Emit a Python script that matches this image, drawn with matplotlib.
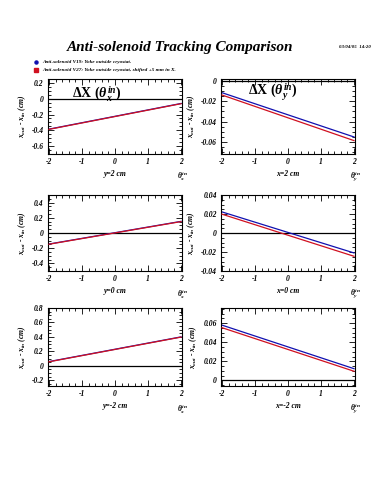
import matplotlib
matplotlib.use('Agg')
import matplotlib.pyplot as plt
from matplotlib.ticker import MultipleLocator

plt.rcParams['font.family'] = ['Liberation Serif', 'DejaVu Serif']
plt.rcParams['mathtext.fontset'] = 'custom'
plt.rcParams['mathtext.rm'] = 'Liberation Serif'
plt.rcParams['mathtext.it'] = 'Liberation Serif:italic:bold'
plt.rcParams['mathtext.bf'] = 'Liberation Serif:bold'

#  theta_in end points (cm offsets are in the x labels)
theta = [-2.0, 2.0]

#  x_out - x_in for the two anti-solenoid versions, one entry per panel
#  order: (y=2, x=2), (y=0, x=0), (y=-2, x=-2)
v19 = [[-0.385, -0.060], [-0.0115, -0.0552],
       [-0.145, 0.153], [0.0222, -0.0210],
       [0.058, 0.400], [0.0580, 0.0122]]
v27 = [[-0.388, -0.063], [-0.0138, -0.0588],
       [-0.148, 0.150], [0.0198, -0.0245],
       [0.055, 0.397], [0.0553, 0.0095]]

panel_xlabels = ['y=2 cm', 'x=2 cm', 'y=0 cm', 'x=0 cm', 'y=-2 cm', 'x=-2 cm']
panel_ylims = [(-0.7, 0.25), (-0.072, 0.002),
               (-0.5, 0.5), (-0.04, 0.04),
               (-0.28, 0.8), (-0.006, 0.076)]
panel_major = [0.2, 0.02, 0.2, 0.02, 0.2, 0.02]
panel_minor = [0.05, 0.005, 0.05, 0.005, 0.05, 0.005]
ytick_fmt = ['%.1f', '%.2f', '%.1f', '%.2f', '%.1f', '%.2f']

legend_labels = ['Anti-solenoid V19: Yoke outside cryostat.',
                 'Anti-solenoid V27: Yoke outside cryostat, shifted +5 mm in X.']

W, H = 375, 500
fig = plt.figure(figsize=(W / 100, H / 100), dpi=100)

#  axes boxes in pixels (left, top, right, bottom)
cols = [(48, 182), (221, 355)]
rows = [(79, 154), (195, 271), (308, 386)]

tfont = dict(style='italic', weight='bold', size=5.5)

for i in range(6):
    r, c = divmod(i, 2)
    x0, x1 = cols[c]
    t0, b0 = rows[r]
    ax = fig.add_axes([x0 / W, 1 - b0 / H, (x1 - x0) / W, (b0 - t0) / H])

    ax.axhline(0, color='black', lw=0.9, zorder=1)
    ax.plot(theta, v19[i], color='#1010b0', lw=0.9, zorder=2)
    ax.plot(theta, v27[i], color='#d01020', lw=0.9, zorder=3)

    ax.set_xlim(-2.03, 2.03)
    ax.set_ylim(*panel_ylims[i])
    ax.xaxis.set_major_locator(MultipleLocator(1))
    ax.xaxis.set_minor_locator(MultipleLocator(0.2))
    ax.yaxis.set_major_locator(MultipleLocator(panel_major[i]))
    ax.yaxis.set_minor_locator(MultipleLocator(panel_minor[i]))
    ax.tick_params(which='both', direction='in', top=True, right=True,
                   width=0.6, pad=3)
    ax.tick_params(which='major', length=4)
    ax.tick_params(which='minor', length=2)
    ax.set_xticks([-2, -1, 0, 1, 2])
    ax.set_xticklabels(['-2', '-1', '0', '1', '2'], **tfont)
    yt = [v for v in ax.get_yticks() if panel_ylims[i][0] - 1e-9 <= v <= panel_ylims[i][1] + 1e-9]
    ax.set_yticks(yt)
    ax.set_yticklabels([('0' if abs(v) < 1e-9 else ytick_fmt[i] % v) for v in yt], **tfont)
    for s in ax.spines.values():
        s.set_linewidth(0.8)

    ax.set_xlabel(panel_xlabels[i], labelpad=3, **tfont)
    ax.set_ylabel(r'$x_{out}$ - $x_{in}$ (cm)', labelpad=3, fontsize=5.5,
                  style='italic', weight='bold')
    sub = 'x' if c == 0 else 'y'
    ax.text(1.0, -0.29, r'$\theta_{%s}^{in}$' % sub, transform=ax.transAxes,
            ha='center', va='center', fontsize=5.5)

    if r == 0:
        ax.text(0.18 if c == 0 else 0.2, 0.80 if c == 0 else 0.82,
                r'$\mathbf{\Delta}$X ($\theta_{%s}^{in}$)' % sub,
                transform=ax.transAxes, fontsize=10, weight='bold',
                ha='left', va='center')

fig.text(0.48, 1 - 47 / H, 'Anti-solenoid Tracking Comparison', ha='center',
         va='center', fontsize=11, style='italic', weight='bold')
fig.text(0.99, 1 - 47 / H, '03/04/05  14:20', ha='right', va='center',
         fontsize=3.5, style='italic', weight='bold')

fig.lines.append(plt.Line2D([36 / W], [1 - 62 / H], transform=fig.transFigure,
                            marker='o', ms=2.2, color='#1010b0', lw=0))
fig.lines.append(plt.Line2D([36 / W], [1 - 70 / H], transform=fig.transFigure,
                            marker='s', ms=2.2, color='#d01020', lw=0))
fig.text(42 / W, 1 - 62 / H, legend_labels[0], va='center', fontsize=3.8,
         style='italic', weight='bold')
fig.text(42 / W, 1 - 70 / H, legend_labels[1], va='center', fontsize=3.8,
         style='italic', weight='bold')

fig.savefig('out.png', dpi=100, facecolor='white')
